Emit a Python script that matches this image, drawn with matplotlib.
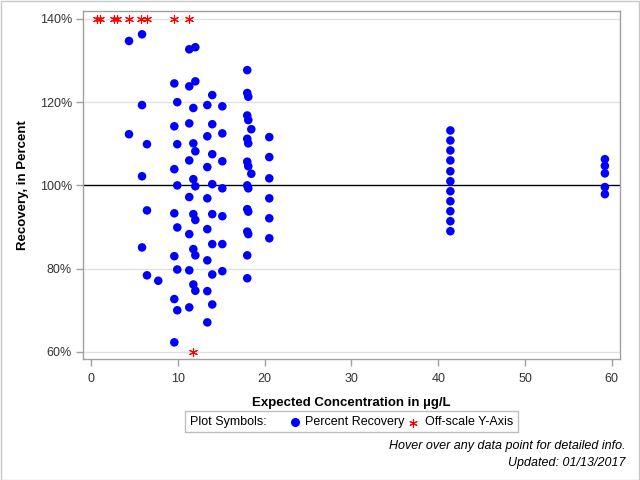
import matplotlib
matplotlib.use("Agg")
import matplotlib.pyplot as plt
from matplotlib.patches import Rectangle
from matplotlib.lines import Line2D
from matplotlib.ticker import FuncFormatter

plt.rcParams['font.family'] = ['Liberation Sans', 'DejaVu Sans']

# Percent recovery data, grouped by expected concentration (ug/L)
conc_groups = [4.38, 5.88, 6.45, 7.75, 9.6, 9.94, 11.32, 11.79, 12.02, 13.4,
               13.97, 15.13, 18.0, 18.12, 18.47, 20.54, 41.4, 59.2]
recovery_groups = [
    [134.7, 112.3],
    [136.3, 119.3, 102.2, 85.1],
    [109.9, 94.0, 78.4],
    [77.1],
    [124.5, 114.2, 103.9, 93.3, 83.0, 72.7, 62.3],
    [120.0, 109.9, 100.0, 89.9, 79.8, 70.0],
    [132.7, 123.8, 114.9, 106.0, 97.2, 88.3, 79.6, 70.7],
    [118.6, 110.1, 101.5, 93.1, 84.7, 76.2],
    [133.2, 125.0, 108.2, 99.8, 91.7, 83.2, 74.7],
    [119.3, 111.8, 104.4, 96.9, 89.5, 82.0, 74.6, 67.1],
    [121.7, 114.7, 107.5, 100.3, 93.1, 85.9, 78.6, 71.4],
    [119.0, 112.5, 105.8, 99.3, 92.6, 85.9, 79.4],
    [127.7, 122.2, 116.8, 111.2, 105.7, 100.0, 94.3, 88.9, 83.2, 77.7],
    [121.3, 115.7, 110.1, 104.6, 99.3, 93.7, 88.3],
    [113.5, 102.8],
    [111.6, 106.8, 101.7, 96.9, 92.1, 87.3],
    [113.2, 110.8, 108.4, 106.0, 103.4, 101.0, 98.6, 96.2, 93.8, 91.4, 89.0],
    [106.3, 104.7, 102.9, 99.6, 97.9],
]

# Off-scale points (plotted at the axis limit)
offscale_x = [0.7, 1.0, 2.7, 3.05, 4.38, 5.8, 6.42, 9.56, 11.29, 11.79]
offscale_y = [140, 140, 140, 140, 140, 140, 140, 140, 140, 60]

x_ticks = [0, 10, 20, 30, 40, 50, 60]
y_ticks = [60, 80, 100, 120, 140]

xs, ys = [], []
for c, vals in zip(conc_groups, recovery_groups):
    for v in vals:
        xs.append(c)
        ys.append(v)

fig = plt.figure(figsize=(6.4, 4.8), dpi=100)
W, H = 640, 480
ax = fig.add_axes([83 / W, 1 - 359 / H, (620 - 83) / W, (359 - 11) / H])

ax.set_xlim(-0.92, 60.94)
ax.set_ylim(58.3, 141.9)

for yv in y_ticks:
    if yv != 100:
        ax.axhline(yv, color='#E1E1E1', lw=1, zorder=0)
ax.axhline(100, color='black', lw=1, zorder=1)

ax.scatter(xs, ys, s=38, color='#0000FF', edgecolors='none', zorder=3)
ax.scatter(offscale_x, offscale_y, s=34, marker=(6, 2, 0), color='#FF0000',
           linewidths=0.8, zorder=4, clip_on=False)

ax.set_xticks(x_ticks)
ax.set_yticks(y_ticks)
ax.yaxis.set_major_formatter(FuncFormatter(lambda v, p: f"{v:.0f}%"))
for sp in ax.spines.values():
    sp.set_color('#A0A0A0')
    sp.set_linewidth(1)
ax.tick_params(axis='both', colors='#A0A0A0', length=5, width=1,
               labelcolor='#333333', labelsize=9)
ax.tick_params(axis='x', pad=5)
ax.tick_params(axis='y', pad=3)

ax.set_xlabel('Expected Concentration in µg/L', fontsize=9.5, fontweight='bold',
              labelpad=9)
ax.set_ylabel('Recovery, in Percent', fontsize=9.5, fontweight='bold', labelpad=8)

# legend box
fig.add_artist(Rectangle((185 / W, 1 - 432 / H), (518 - 185) / W, 21 / H,
                         transform=fig.transFigure, facecolor='white',
                         edgecolor='#BEBEBE', lw=1))
fig.text(190 / W, 1 - 422 / H, 'Plot Symbols:', fontsize=9, va='center',
         ha='left', color='black')
fig.add_artist(Line2D([295 / W], [1 - 422 / H], transform=fig.transFigure,
                      marker='o', markersize=5.5, color='#0000FF', lw=0))
fig.text(305 / W, 1 - 422 / H, 'Percent Recovery', fontsize=9, va='center',
         ha='left', color='black')
fig.add_artist(Line2D([413 / W], [1 - 423 / H], transform=fig.transFigure,
                      marker=(6, 2, 0), markersize=6, color='#FF0000',
                      markeredgewidth=0.8, lw=0))
fig.text(425 / W, 1 - 422 / H, 'Off-scale Y-Axis', fontsize=9, va='center',
         ha='left', color='black')

fig.text(626 / W, 1 - 446 / H, 'Hover over any data point for detailed info.',
         fontsize=9, style='italic', ha='right', va='center', color='black')
fig.text(626 / W, 1 - 463 / H, 'Updated: 01/13/2017',
         fontsize=9, style='italic', ha='right', va='center', color='black')

fig.add_artist(Rectangle((0.5 / W, 0.5 / H), 1 - 1.5 / W, 1 - 1.5 / H,
                         transform=fig.transFigure, facecolor='none',
                         edgecolor='#C8C8C8', lw=1))

fig.savefig('out.png', dpi=100)
